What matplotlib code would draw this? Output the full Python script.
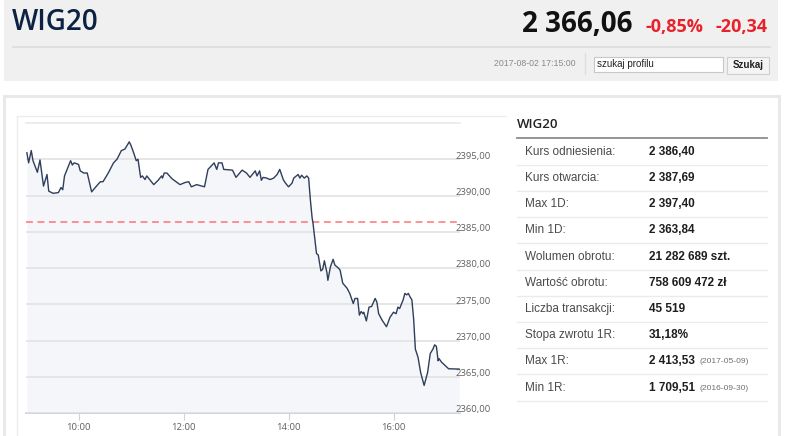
import numpy as np
import matplotlib
matplotlib.use("Agg")
import matplotlib.pyplot as plt
from matplotlib.patches import Rectangle
from matplotlib.lines import Line2D
from matplotlib.transforms import ScaledTranslation

    # ===================== #
    # ========== DANE ===== #
    # ===================== #

index_name = "WIG20"
last_price = "2 366,06"
change_pct = "-0,85%"
change_abs = "-20,34"
timestamp = "2017-08-02 17:15:00"
search_hint = "szukaj profilu"
search_button = "Szukaj"

# minuty od 9:00
minutes = [1, 3, 6, 8, 13, 16, 20, 24, 26, 31, 37, 40, 42, 44, 51, 53, 55, 60, 62, 66,
           70, 75, 82, 85, 88, 94, 100, 104, 109, 113, 118, 120, 123, 126, 128, 131, 133, 136, 138, 146,
           151, 155, 156, 158, 161, 167, 176, 182, 186, 189, 195, 201, 204, 208, 215, 218, 220, 224, 226, 236,
           240, 247, 252, 256, 262, 264, 267, 269, 271, 275, 279, 283, 287, 290, 294, 296, 300, 304, 306, 311,
           313, 315, 318, 321, 323, 325, 327, 328, 332, 334, 337, 339, 341, 344, 345, 348, 351, 353, 357, 359,
           362, 367, 370, 374, 376, 379, 381, 383, 385, 386, 389, 392, 395, 399, 401, 403, 407, 412, 416, 420,
           423, 425, 427, 431, 433, 435, 437, 439, 441, 443, 445, 448, 451, 455, 459, 462, 465, 467, 469, 471,
           472, 475, 483, 495]
prices = [2395.9, 2394.5, 2396.2, 2394.8, 2393.2, 2394.9, 2391.3, 2392.9, 2390.6, 2390.3,
          2390.4, 2391.1, 2390.8, 2392.7, 2394.8, 2394.2, 2394.5, 2394.3, 2393.4, 2393.1,
          2393.1, 2390.5, 2391.5, 2391.9, 2391.9, 2393.1, 2394.5, 2395.0, 2396.2, 2396.4,
          2397.4, 2396.9, 2395.9, 2394.8, 2395.0, 2392.5, 2392.7, 2392.2, 2392.7, 2391.5,
          2392.1, 2392.7, 2392.4, 2393.1, 2393.1, 2392.3, 2391.5, 2391.8, 2391.9, 2391.2,
          2391.5, 2391.3, 2391.2, 2393.6, 2394.5, 2393.6, 2394.5, 2394.5, 2393.6, 2393.5,
          2392.5, 2393.5, 2393.1, 2392.5, 2393.4, 2392.7, 2393.4, 2392.1, 2392.5, 2392.4,
          2392.2, 2392.4, 2392.9, 2393.6, 2392.2, 2391.8, 2391.2, 2391.7, 2392.4, 2392.9,
          2392.4, 2392.8, 2392.4, 2392.7, 2392.4, 2389.4, 2386.9, 2386.2, 2382.0, 2381.8,
          2379.6, 2379.8, 2381.0, 2379.3, 2378.3, 2380.2, 2381.2, 2380.4, 2380.0, 2379.7,
          2377.9, 2377.2, 2376.5, 2375.1, 2375.8, 2375.8, 2373.5, 2374.0, 2373.7, 2373.9,
          2372.7, 2374.6, 2374.7, 2375.8, 2375.3, 2373.7, 2372.8, 2371.9, 2373.2, 2373.9,
          2373.7, 2374.6, 2374.4, 2375.6, 2376.5, 2376.3, 2376.5, 2376.0, 2375.6, 2373.0,
          2368.8, 2367.7, 2365.6, 2363.8, 2365.6, 2368.2, 2368.8, 2369.4, 2369.2, 2367.2,
          2367.5, 2367.0, 2366.1, 2366.06]
reference_price = 2386.40

y_ticks = [2360, 2365, 2370, 2375, 2380, 2385, 2390, 2395]
x_ticks = [10, 12, 14, 16]

table_labels = ["Kurs odniesienia:", "Kurs otwarcia:", "Max 1D:", "Min 1D:", "Wolumen obrotu:",
                "Wartość obrotu:", "Liczba transakcji:", "Stopa zwrotu 1R:", "Max 1R:", "Min 1R:"]
table_values = ["2 386,40", "2 387,69", "2 397,40", "2 363,84", "21 282 689 szt.",
                "758 609 472 zł", "45 519", "31,18%", "2 413,53", "1 709,51"]
table_dates = ["", "", "", "", "", "", "", "", "(2017-05-09)", "(2016-09-30)"]

    # ======================== #
    # ========== STRONA ====== #
    # ======================== #

W, H = 786, 436
fx = lambda x: x / W
fy = lambda y: 1 - y / H

fig = plt.figure(figsize=(W / 100, H / 100), dpi=100, facecolor="white")

def rect(x0, y0, x1, y1, **kw):
    fig.add_artist(Rectangle((fx(x0), fy(y1)), fx(x1) - fx(x0), fy(y0) - fy(y1),
                             transform=fig.transFigure, zorder=-2, **kw))

def hline(x0, x1, y, **kw):
    fig.add_artist(Line2D([fx(x0), fx(x1)], [fy(y), fy(y)], transform=fig.transFigure, zorder=-1, **kw))

def vline(x, y0, y1, **kw):
    fig.add_artist(Line2D([fx(x), fx(x)], [fy(y0), fy(y1)], transform=fig.transFigure, zorder=-1, **kw))

# naglowek
rect(4, 0, 778, 81, facecolor="#f0f0f0", edgecolor="none")
hline(13, 770, 47, color="#dcdcdc", lw=1.2)
fig.text(fx(12), fy(23), index_name, fontsize=20, fontweight="semibold", family="Open Sans",
         color="#0b2242", va="center", ha="left")
fig.text(fx(633), fy(24), last_price, fontsize=20, fontweight="bold", family="Open Sans",
         color="#111111", va="center", ha="right")
fig.text(fx(645), fy(27), change_pct, fontsize=13, fontweight="bold", family="Open Sans",
         color="#e8212b", va="center", ha="left")
fig.text(fx(716), fy(27), change_abs, fontsize=13, fontweight="bold", family="Open Sans",
         color="#e8212b", va="center", ha="left")
fig.text(fx(576), fy(64), timestamp, fontsize=6.3, family="Liberation Sans",
         color="#8a8a8a", va="center", ha="right")
vline(585, 53, 74, color="#dedede", lw=1)
rect(594, 57, 723, 72, facecolor="white", edgecolor="#c8c8c8", lw=0.8)
fig.text(fx(597), fy(64), search_hint, fontsize=7, family="Liberation Sans",
         color="#222222", va="center", ha="left")
rect(727, 57, 769, 74, facecolor="#f4f4f4", edgecolor="#cfcfcf", lw=0.8)
fig.text(fx(748), fy(65.5), search_button, fontsize=7, fontweight="bold", family="Liberation Sans",
         color="#222222", va="center", ha="center")

# panel dolny
rect(4, 96, 779, 440, facecolor="white", edgecolor="#e9e9e9", lw=2.2)
hline(17, 505, 116, color="#ececec", lw=1)
vline(17, 116, 440, color="#ececec", lw=1)

    # ======================== #
    # ========== WYKRES ====== #
    # ======================== #

t = 9 + np.array(minutes) / 60.0
p = np.array(prices)

ax = fig.add_axes([fx(26), fy(413), fx(460) - fx(26), fy(123) - fy(413)])
ax.set_zorder(5)
ax.patch.set_alpha(0)
ax.fill_between(t, p, y_ticks[0], color="#f4f6f9", lw=0, zorder=1)
ax.plot(t, p, color="#2f3e5a", lw=1.0, zorder=3)
ax.axhline(reference_price, color="#ff5c5c", lw=1.1, ls=(0, (4.5, 3)), alpha=0.85, zorder=2.8)

ax.set_xlim(9.0, 9 + 434 / 52.5)
ax.set_ylim(2360, 2400)
ax.set_yticks(y_ticks)
ax.set_yticklabels([f"{v:.2f}".replace(".", ",") for v in y_ticks])
ax.set_xticks(x_ticks)
ax.set_xticklabels([f"{h}:00" for h in x_ticks])
ax.yaxis.tick_right()
ax.grid(axis="y", color="#e4e4e4", lw=1.3)
ax.set_axisbelow(False)
for s in ["left", "right"]:
    ax.spines[s].set_visible(False)
ax.spines["top"].set_color("#ececec")
ax.spines["top"].set_linewidth(1.3)
ax.spines["bottom"].set_color("#ccd2dc")
ax.spines["bottom"].set_linewidth(1.3)
ax.tick_params(axis="y", length=0, pad=-3, labelsize=6.8, labelcolor="#606060")
ax.tick_params(axis="x", length=5, width=0.8, color="#ccd2dc", pad=2, labelsize=6.8, labelcolor="#606060")
for lab in ax.get_yticklabels():
    lab.set_family("Open Sans")
    lab.set_transform(lab.get_transform() + ScaledTranslation(0, 3 / 72, fig.dpi_scale_trans))
for lab in ax.get_xticklabels():
    lab.set_family("Open Sans")

    # ======================== #
    # ========== TABELA ====== #
    # ======================== #

fig.text(fx(517), fy(125), index_name, fontsize=9.5, fontweight="semibold", family="Open Sans",
         color="#222222", va="center", ha="left")
hline(517, 767, 138, color="#8c8c8c", lw=1.3)
row0, step = 151.7, 26.2
for i, (lab, val, dt) in enumerate(zip(table_labels, table_values, table_dates)):
    yc = row0 + i * step
    fig.text(fx(525), fy(yc), lab, fontsize=8.5, family="Liberation Sans", color="#4a4a4a",
             va="center", ha="left")
    fig.text(fx(649), fy(yc), val, fontsize=8.5, fontweight="bold", family="Liberation Sans",
             color="#1e1e1e", va="center", ha="left")
    if dt:
        fig.text(fx(700), fy(yc + 0.5), dt, fontsize=6.1, family="Liberation Sans", color="#707070",
                 va="center", ha="left")
    hline(517, 767, yc + 13.1, color="#ebebeb", lw=1)

fig.savefig("out.png", dpi=100, facecolor="white")
